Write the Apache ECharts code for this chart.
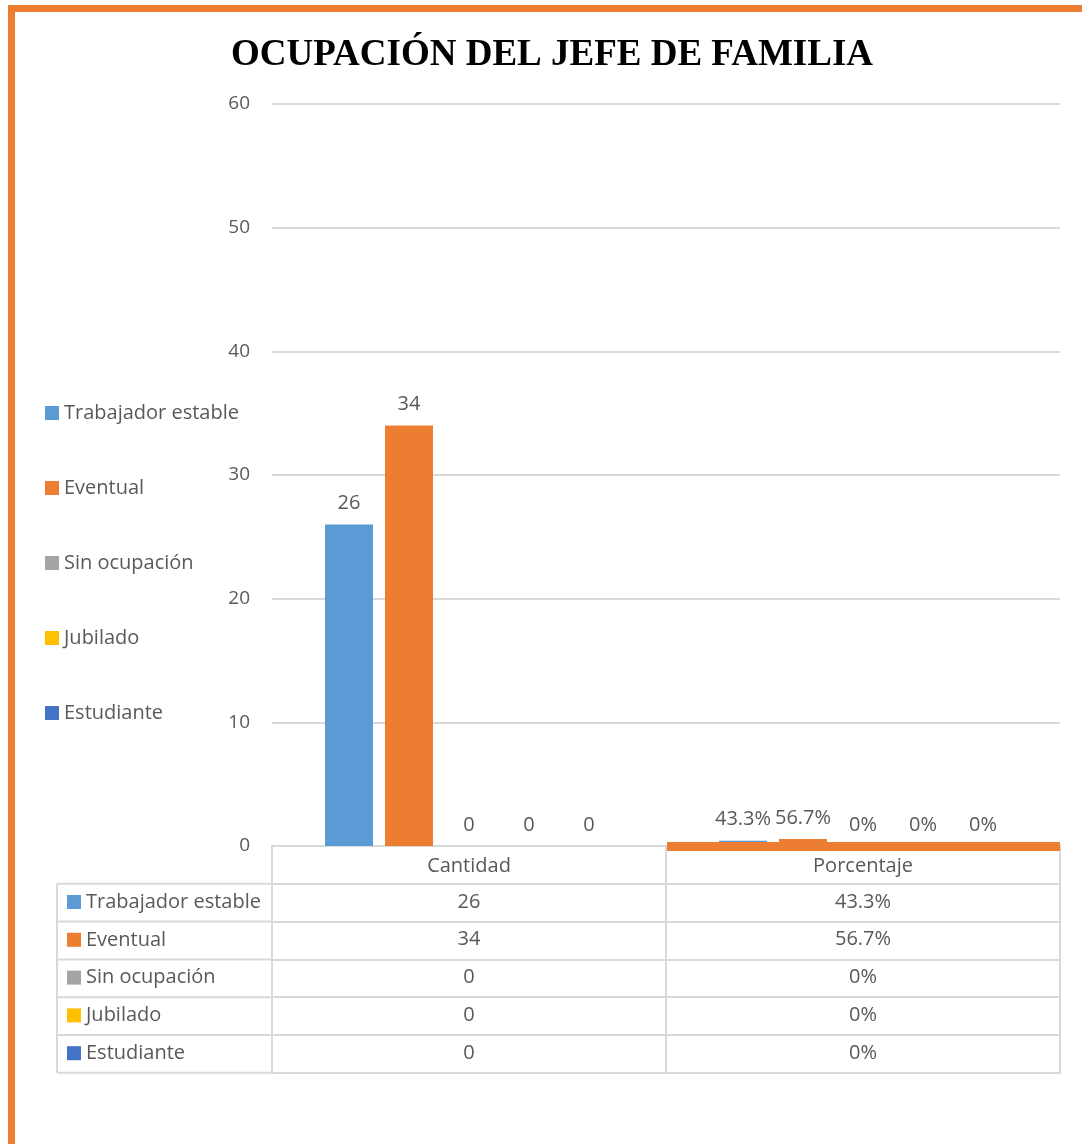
<!doctype html>
<html>
<head>
<meta charset="utf-8">
<script src="https://cdn.jsdelivr.net/npm/echarts@6/dist/echarts.min.js"></script>
<style>
    html,body{margin:0;padding:0;background:#fff;}
    #chart{width:1082px;height:1144px;}
</style>
</head>
<body>
<div id="chart"></div>
<script>
    // datos
    var categorias = ['Cantidad', 'Porcentaje'];
    var ocupaciones = ['Trabajador estable', 'Eventual', 'Sin ocupación', 'Jubilado', 'Estudiante'];
    var cantidad = [26, 34, 0, 0, 0];
    var porcentaje = [0.433, 0.567, 0, 0, 0];
    var colores = ['#5B9BD5', '#ED7D31', '#A5A5A5', '#FFC000', '#4472C4'];
    var yTicks = [0, 10, 20, 30, 40, 50, 60];

    var gridL = 272, gridR = 22, gridT = 104, gridB = 298;
    var axisY = 1144 - gridB;
    var rowH = 37.8;
    var txt = '#595959', linea = '#d9d9d9', fuente = 'Open Sans';

    function fmtPct(v) {
        return +(v * 100).toFixed(1) + '%';
    }
    function fmt(v, i) {
        return i === 0 ? String(v) : fmtPct(v);
    }

    var series = ocupaciones.map(function (n, k) {
        return {
            name: n,
            type: 'bar',
            barWidth: 48,
            barGap: '25%',
            itemStyle: {color: colores[k]},
            label: {
                show: true, position: 'top', distance: 11,
                color: txt, fontSize: 20, fontFamily: fuente,
                formatter: function (p) { return fmt(p.value, p.dataIndex); }
            },
            data: [cantidad[k], porcentaje[k]]
        };
    });

    // filas de la tabla de datos como ejes extra
    var xAxes = [{
        type: 'category', data: categorias, gridIndex: 0,
        axisLine: {show: true, lineStyle: {color: linea, width: 2}},
        axisTick: {show: true, length: rowH * 6, lineStyle: {color: linea, width: 2}},
        axisLabel: {color: txt, fontSize: 20, fontFamily: fuente, margin: 10}
    }];
    ocupaciones.forEach(function (n, k) {
        xAxes.push({
            type: 'category', data: categorias, gridIndex: 0, position: 'bottom',
            offset: rowH * (k + 1),
            axisLine: {show: true, lineStyle: {color: linea, width: 2}},
            axisTick: {show: false},
            axisLabel: {
                color: txt, fontSize: 20, fontFamily: fuente, margin: 8,
                formatter: function (v, i) {
                    return i === 0 ? String(cantidad[k]) : fmtPct(porcentaje[k]);
                }
            }
        });
    });
    xAxes.push({
        type: 'category', data: categorias, gridIndex: 0, position: 'bottom',
        offset: rowH * 6,
        axisLine: {show: true, lineStyle: {color: linea, width: 2}},
        axisTick: {show: false}, axisLabel: {show: false}
    });

    // columna izquierda de la tabla
    var graficos = [];
    for (var r = 1; r <= 6; r++) {
        graficos.push({
            type: 'line', silent: true,
            shape: {x1: 57, y1: axisY + rowH * r, x2: gridL, y2: axisY + rowH * r},
            style: {stroke: linea, lineWidth: 2}
        });
    }
    graficos.push({
        type: 'line', silent: true,
        shape: {x1: 57, y1: axisY + rowH, x2: 57, y2: axisY + rowH * 6},
        style: {stroke: linea, lineWidth: 2}
    });
    // borde naranja
    graficos.push({
        type: 'polyline', silent: true,
        shape: {points: [[11.5, 1144], [11.5, 8.5], [1082, 8.5]]},
        style: {stroke: '#ED7D31', lineWidth: 7, fill: null}
    });
    // franja naranja bajo Porcentaje
    var banda = (1082 - gridL - gridR) / 2;
    graficos.push({
        type: 'rect', silent: true, z: 10,
        shape: {x: gridL + banda + 1, y: axisY - 4, width: banda - 1, height: 9},
        style: {fill: '#ED7D31'}
    });

    var dom = document.getElementById('chart');
    var myChart = echarts.init(dom);
    var option = {
        backgroundColor: '#fff',
        animation: false,
        title: {
            text: 'OCUPACIÓN DEL JEFE DE FAMILIA',
            left: 226, top: 32,
            textStyle: {fontFamily: 'Liberation Serif', fontWeight: 'bold', fontSize: 37, color: '#000'}
        },
        legend: [{
            orient: 'vertical', left: 40, top: 398,
            icon: 'rect', itemWidth: 14, itemHeight: 14, itemGap: 55,
            selectedMode: false,
            textStyle: {color: txt, fontSize: 20, fontFamily: fuente, lineHeight: 20},
            data: ocupaciones
        }, {
            orient: 'vertical', left: 62, top: 887,
            icon: 'rect', itemWidth: 14, itemHeight: 14, itemGap: 17.8,
            selectedMode: false,
            textStyle: {color: txt, fontSize: 20, fontFamily: fuente, lineHeight: 20},
            data: ocupaciones
        }],
        grid: {left: gridL, right: gridR, top: gridT, bottom: gridB, containLabel: false},
        xAxis: xAxes,
        yAxis: {
            type: 'value', min: yTicks[0], max: yTicks[yTicks.length - 1], interval: 10,
            axisLine: {show: false}, axisTick: {show: false},
            axisLabel: {color: txt, fontSize: 19, fontFamily: fuente, margin: 22},
            splitLine: {lineStyle: {color: linea, width: 2}}
        },
        graphic: graficos,
        series: series
    };
    if (option && typeof option === "object") {
        myChart.setOption(option, true);
    }
</script>
</body>
</html>
